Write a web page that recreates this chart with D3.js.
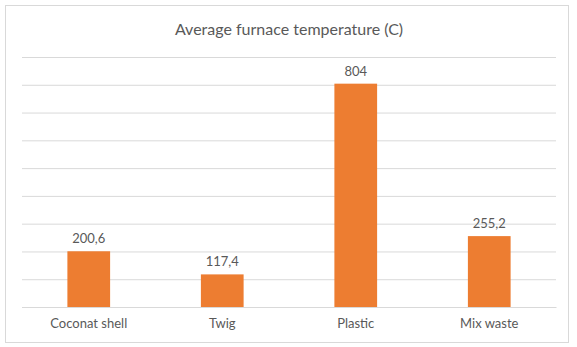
<!DOCTYPE html>
<html>
<head>
<meta charset="utf-8">
<script src="https://cdn.jsdelivr.net/npm/d3@7"></script>
<style>
  body { margin: 0; background: #fff; }
  text { font-family: Lato, "Open Sans", sans-serif; fill: #595959; }
</style>
</head>
<body>
<svg id="chart"></svg>
<script>
// data
const categories = ['Coconat shell', 'Twig', 'Plastic', 'Mix waste']
const temperatures = [200.6, 117.4, 804, 255.2]
const gridTicks = [0, 100, 200, 300, 400, 500, 600, 700, 800, 900]
const chartTitle = 'Average furnace temperature (C)'

const width = 577, height = 347
const margin = { top: 57, right: 21, bottom: 40, left: 22 }
const innerW = width - margin.left - margin.right
const innerH = height - margin.top - margin.bottom

const svg = d3.select('#chart')
    .attr('width', width)
    .attr('height', height)

// outer chart border
svg.append('rect')
    .attr('x', 5.5).attr('y', 5.5)
    .attr('width', 563).attr('height', 337)
    .attr('fill', '#fff')
    .attr('stroke', '#d9d9d9')

svg.append('text')
    .attr('x', margin.left + innerW / 2)
    .attr('y', 35)
    .attr('text-anchor', 'middle')
    .style('font-size', '16px')
    .text(chartTitle)

const chart = svg.append('g')
    .attr('transform', `translate(${margin.left}, ${margin.top})`)

const xScale = d3.scaleBand()
    .domain(categories)
    .range([0, innerW])
    .paddingInner(0.68)
    .paddingOuter(0.34)

const yScale = d3.scaleLinear()
    .domain([0, 900])
    .range([innerH, 0])

// gridlines
const yAxis = d3.axisLeft(yScale)
    .tickValues(gridTicks)
    .tickSize(-innerW)
    .tickFormat('')

chart.append('g')
    .attr('class', 'grid')
    .call(yAxis)
    .call(g => g.select('.domain').remove())
    .call(g => g.selectAll('line').attr('stroke', '#d9d9d9'))

// bars
chart.selectAll('.bar')
    .data(temperatures)
    .join('rect')
        .attr('class', 'bar')
        .attr('x', (d, i) => xScale(categories[i]))
        .attr('y', d => yScale(d))
        .attr('width', xScale.bandwidth())
        .attr('height', d => innerH - yScale(d))
        .attr('fill', '#ed7d31')

// value labels (decimal comma like the original)
chart.selectAll('.value')
    .data(temperatures)
    .join('text')
        .attr('class', 'value')
        .attr('x', (d, i) => xScale(categories[i]) + xScale.bandwidth() / 2)
        .attr('y', d => yScale(d) - 8)
        .attr('text-anchor', 'middle')
        .style('font-size', '13px')
        .text(d => String(d).replace('.', ','))

// category axis
const xAxis = d3.axisBottom(xScale).tickSize(0).tickPadding(12)

chart.append('g')
    .attr('transform', `translate(0, ${innerH})`)
    .call(xAxis)
    .call(g => g.select('.domain').attr('stroke', '#d9d9d9'))
    .call(g => g.selectAll('text')
        .style('font-size', '13px')
        .style('font-family', 'Lato, "Open Sans", sans-serif')
        .attr('fill', '#595959'))
</script>
</body>
</html>
